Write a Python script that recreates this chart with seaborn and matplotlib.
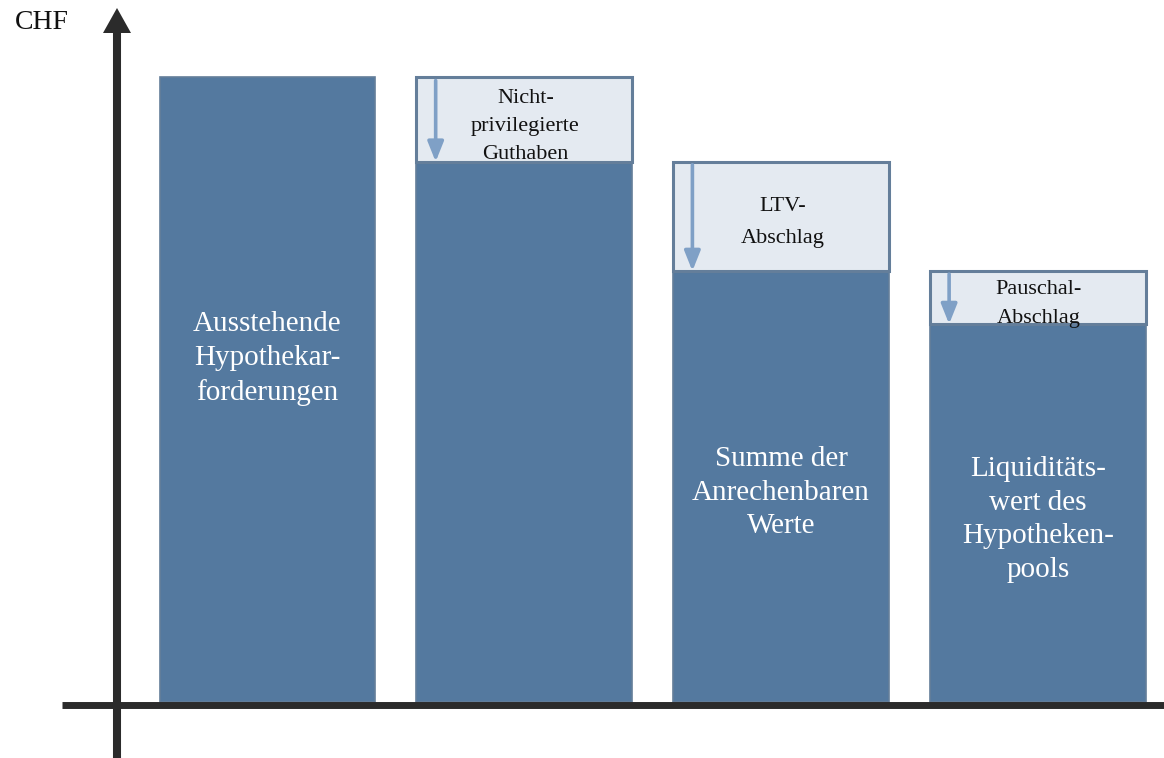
import matplotlib
matplotlib.use("Agg")
import matplotlib.pyplot as plt
import seaborn as sns
import pandas as pd

# Waterfall from outstanding mortgage claims to the liquidity value of the pool
steps = ["Ausstehende\nHypothekar-\nforderungen", "", "Summe der\nAnrechenbaren\nWerte",
         "Liquiditäts-\nwert des\nHypotheken-\npools"]
remaining = [100.0, 86.5, 69.0, 60.5]          # value left after each deduction
deductions = [0.0, 13.5, 17.5, 8.5]            # amount removed at each step
deduction_labels = ["", "Nicht-\nprivilegierte\nGuthaben", "LTV-\nAbschlag", "Pauschal-\nAbschlag"]
axis_label = "CHF"

dark = "#54799f"
light = "#e4eaf1"
edge = "#647e9a"
arrow_col = "#7fa0c6"
axis_col = "#2b2b2b"

sns.set_theme(style="white")
plt.rcParams["font.family"] = ["Liberation Serif", "DejaVu Serif"]

fig = plt.figure(figsize=(11.64, 7.58), dpi=100)
ax = fig.add_axes([0, 0, 1, 1])

XMIN, XMAX, YMIN, YMAX = -1.042, 3.492, -9.0, 112.4


def px(xp, yp):
    """Convert figure pixel position to data coordinates."""
    return (XMIN + xp / 1164 * (XMAX - XMIN), YMAX - yp / 758 * (YMAX - YMIN))


df = pd.DataFrame({"step": [f"s{i}" for i in range(len(remaining))], "value": remaining})
width = 0.84
sns.barplot(data=df, x="step", y="value", color=dark, saturation=1, width=width,
            edgecolor=edge, linewidth=1.2, ax=ax, zorder=2)

# deduction boxes stacked above the remaining value
xs = list(range(len(remaining)))
box_spacing = [1.0, 1.62, 1.95, 1.7]
box_shift = [0.0, -1.1, -1.0, -1.1]
for i in xs:
    if deductions[i] > 0:
        ax.bar(i, deductions[i], bottom=remaining[i], width=width, color=light,
               edgecolor=edge, linewidth=2.2, zorder=3)
        x_arr = i - width / 2 + 0.075
        ax.annotate("", xy=(x_arr, remaining[i]), xytext=(x_arr, remaining[i] + deductions[i] - 0.5),
                    arrowprops=dict(arrowstyle="-|>,head_length=1.0,head_width=0.4",
                                    color=arrow_col, lw=2.6, shrinkA=0, shrinkB=0), zorder=4)
        ax.text(i + 0.005, remaining[i] + deductions[i] / 2 + box_shift[i], deduction_labels[i],
                ha="center", va="center", fontsize=16, color="#111111",
                linespacing=box_spacing[i], zorder=5)

# labels inside the dark bars
label_y = [55.0, None, 33.5, 29.2]
for i in xs:
    if steps[i]:
        ax.text(i, label_y[i], steps[i], ha="center", va="center", fontsize=21,
                color="white", linespacing=1.38, zorder=5)

# axes drawn as thick arrows
x_axis, _ = px(117, 0)
_, y_tip_base = px(0, 32)
_, y_bottom = px(0, 758)
ax.plot([x_axis, x_axis], [y_bottom, y_tip_base], color=axis_col, lw=5.8,
        solid_capstyle="butt", zorder=6)
head = [px(117, 8), px(103, 33), px(131, 33)]
ax.fill([p[0] for p in head], [p[1] for p in head], color=axis_col, lw=0, zorder=6)

x_left, _ = px(62, 0)
ax.plot([x_left, XMAX], [-0.55, -0.55], color=axis_col, lw=5, solid_capstyle="butt", zorder=6)
cx, cy = px(42, 22)
ax.text(cx, cy, axis_label, fontsize=20, color="#111111", ha="center", va="center")

ax.set_xlim(XMIN, XMAX)
ax.set_ylim(YMIN, YMAX)
ax.set_axis_off()

fig.savefig("out.png", dpi=100)
